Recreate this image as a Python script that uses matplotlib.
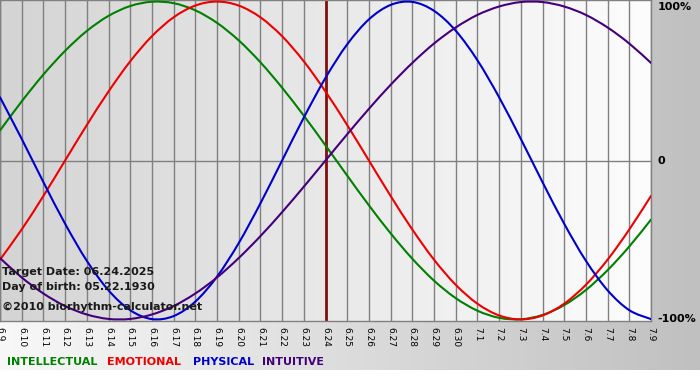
import numpy as np
import matplotlib
matplotlib.use("Agg")
import matplotlib.pyplot as plt
from matplotlib.colors import LinearSegmentedColormap
from matplotlib.path import Path
from matplotlib.patches import PathPatch

# -------------------------
# DATA (one value per day, 6.9 .. 7.9)
# -------------------------
day_labels = ["6.9", "6.10", "6.11", "6.12", "6.13", "6.14", "6.15", "6.16",
              "6.17", "6.18", "6.19", "6.20", "6.21", "6.22", "6.23", "6.24",
              "6.25", "6.26", "6.27", "6.28", "6.29", "6.30", "7.1", "7.2",
              "7.3", "7.4", "7.5", "7.6", "7.7", "7.8", "7.9"]

intellectual = [0.189, 0.372, 0.541, 0.690, 0.815, 0.910, 0.972, 0.999, 0.990,
                0.945, 0.866, 0.756, 0.618, 0.458, 0.282, 0.095, -0.095, -0.282,
                -0.458, -0.618, -0.756, -0.866, -0.945, -0.990, -0.999, -0.972,
                -0.910, -0.815, -0.690, -0.541, -0.372]
emotional = [-0.624, -0.434, -0.223, 0.000, 0.223, 0.434, 0.624, 0.782, 0.901,
             0.975, 1.000, 0.975, 0.901, 0.782, 0.624, 0.434, 0.223, 0.000,
             -0.223, -0.434, -0.624, -0.782, -0.901, -0.975, -1.000, -0.975,
             -0.901, -0.782, -0.624, -0.434, -0.223]
physical = [0.398, 0.136, -0.136, -0.398, -0.631, -0.817, -0.942, -0.998, -0.979,
            -0.888, -0.731, -0.520, -0.270, 0.000, 0.270, 0.520, 0.731, 0.888,
            0.979, 0.998, 0.942, 0.817, 0.631, 0.398, 0.136, -0.136, -0.398,
            -0.631, -0.817, -0.942, -0.998]
intuitive = [-0.614, -0.736, -0.837, -0.916, -0.969, -0.997, -0.997, -0.969,
             -0.916, -0.837, -0.736, -0.614, -0.476, -0.325, -0.165, 0.000,
             0.165, 0.325, 0.476, 0.614, 0.736, 0.837, 0.916, 0.969, 0.997,
             0.997, 0.969, 0.916, 0.837, 0.736, 0.614]

target_index = 15  # 6.24
series_names = ["INTELLECTUAL", "EMOTIONAL", "PHYSICAL", "INTUITIVE"]
series_colors = ["#008000", "#ee0000", "#0000cc", "#44007a"]


def smooth_path(xs, ys):
    """Cubic Bezier path through every point (Catmull-Rom style handles)."""
    pts = np.column_stack([xs, ys]).astype(float)
    padded = np.vstack([pts[0], pts, pts[-1]])
    verts = [pts[0]]
    codes = [Path.MOVETO]
    for i in range(len(pts) - 1):
        p0, p1, p2, p3 = padded[i], padded[i + 1], padded[i + 2], padded[i + 3]
        verts += [p1 + (p2 - p0) / 6, p2 - (p3 - p1) / 6, p2]
        codes += [Path.CURVE4] * 3
    return Path(verts, codes)


# -------------------------
# FIGURE
# -------------------------
W, H = 700, 380
fig = plt.figure(figsize=(W / 100, H / 100), dpi=100)
fig.patch.set_facecolor("white")

# outer background: light on the left, gray on the right
bg = fig.add_axes([0, 10 / H, 1, 370 / H])
bg_cmap = LinearSegmentedColormap.from_list("bg", ["#f8f8f8", "#c0c0c0"])
bg.imshow(np.linspace(0, 1, 256).reshape(1, -1), cmap=bg_cmap, aspect="auto",
          extent=[0, 1, 0, 1])
bg.axis("off")

ax = fig.add_axes([0, 59 / H, 651 / W, 321 / H])
x = np.arange(len(day_labels))
ax.set_xlim(0, len(day_labels) - 1)
ax.set_ylim(-1.01, 1.01)

# plot area background: darker on the left, near white on the right
pa_cmap = LinearSegmentedColormap.from_list("pa", ["#d4d4d4", "#fdfdfd"])
ax.imshow(np.linspace(0, 1, 256).reshape(1, -1), cmap=pa_cmap, aspect="auto",
          extent=[0, len(day_labels) - 1, -1.01, 1.01], zorder=0)

for xi in x:
    ax.axvline(xi, color="#808080", lw=1, zorder=1)
ax.axhline(0, color="#808080", lw=1, zorder=1)
ax.axvline(target_index, color="#801010", lw=2, zorder=2)

for vals, col in zip([intellectual, emotional, physical, intuitive], series_colors):
    ax.add_patch(PathPatch(smooth_path(x, vals), facecolor="none", edgecolor=col,
                           lw=1.5, zorder=3, capstyle="round"))

for s in ax.spines.values():
    s.set_color("#808080")
    s.set_linewidth(1)

ax.set_xticks(x)
ax.set_xticklabels(day_labels, rotation=-90, fontsize=6.5)
ax.tick_params(axis="x", length=0, pad=4)
ax.set_yticks([])

# right-hand percentage labels
ax.text(30.3, 1.0, "100%", fontsize=8, fontweight="bold", va="top", ha="left",
        clip_on=False)
ax.text(30.3, 0.0, "0", fontsize=8, fontweight="bold", va="center", ha="left",
        clip_on=False)
ax.text(30.3, -1.0, "-100%", fontsize=8, fontweight="bold", va="center",
        ha="left", clip_on=False)

# info text
info = [("Target Date: 06.24.2025", 272), ("Day of birth: 05.22.1930", 287),
        ("\u00a92010 biorhythm-calculator.net", 307)]
for txt, py in info:
    fig.text(2 / W, 1 - py / H, txt, fontsize=8, fontweight="bold",
             color="#1a1a1a", va="center", ha="left", zorder=10)

# legend row
legend_x = [7, 107, 193, 262]
for name, col, px in zip(series_names, series_colors, legend_x):
    fig.text(px / W, 1 - 362 / H, name, fontsize=8, fontweight="bold",
             color=col, va="center", ha="left")

fig.savefig("out.png", dpi=100)
